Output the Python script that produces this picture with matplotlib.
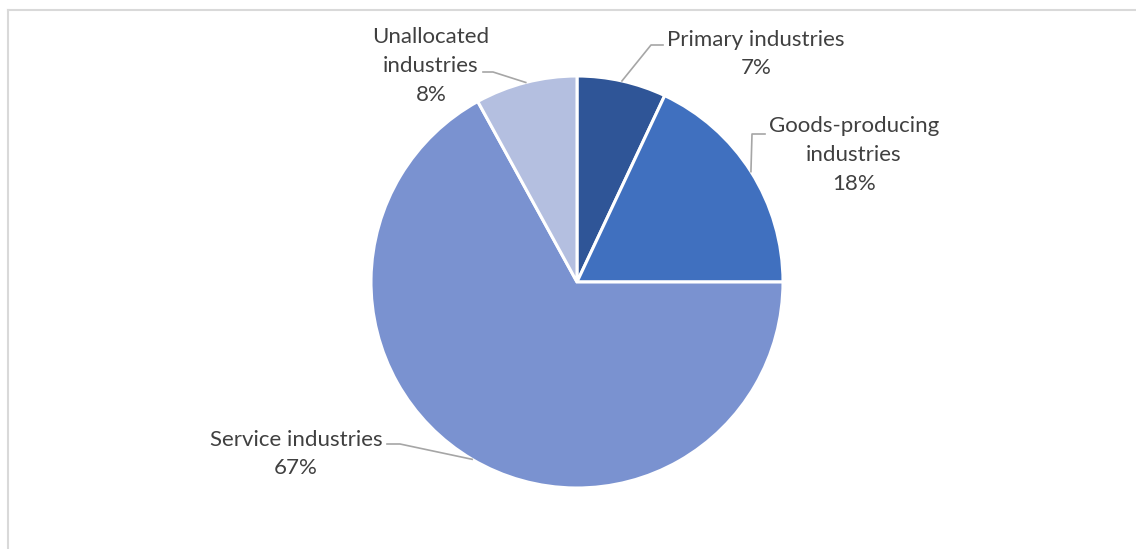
import numpy as np
import matplotlib
matplotlib.use("Agg")
import matplotlib.pyplot as plt

# Share of the total by industry group (percent)
categories = ["Primary industries", "Goods-producing\nindustries",
              "Service industries", "Unallocated\nindustries"]
shares = [7, 18, 67, 8]
colors = ["#2F5597", "#4070BF", "#7A92D0", "#B4BFE0"]

# label layout in pixel space: text centre, elbow point, end of short horizontal
label_pos = [(756, 54), (854, 155), (296, 454), (431, 66)]
elbows = [(651, 45), (752, 134), (400, 444), (493, 72)]
ends = [(663, 45), (765, 134), (387, 444), (483, 72)]

plt.rcParams['font.family'] = ['Lato', 'DejaVu Sans']

fig = plt.figure(figsize=(11.36, 5.49), dpi=100)
ax = fig.add_axes([0, 0, 1, 1])

center = (577, 282)
radius = 206

# y axis is flipped below, so data-counterclockwise draws clockwise on screen
wedges, _ = ax.pie(shares, colors=colors, startangle=-90, counterclock=True,
                   center=center, radius=radius, frame=True,
                   wedgeprops=dict(edgecolor='white', linewidth=2.2))
ax.set_xlim(0, 1136)
ax.set_ylim(549, 0)
ax.set_aspect('equal')
ax.axis('off')

for w, cat, val, tp, el, en in zip(wedges, categories, shares,
                                   label_pos, elbows, ends):
    mid = np.deg2rad((w.theta1 + w.theta2) / 2)
    edge = (center[0] + radius * np.cos(mid), center[1] + radius * np.sin(mid))
    ax.plot([edge[0], el[0], en[0]], [edge[1], el[1], en[1]],
            color='#A6A6A6', linewidth=1.2, zorder=3)
    ax.text(tp[0], tp[1], f"{cat}\n{val}%", ha='center', va='center',
            fontsize=16, color='#404040', linespacing=1.55)

# chart border (only top and left edges visible)
ax.plot([8, 1136], [10, 10], color='#D9D9D9', linewidth=1.5, clip_on=False)
ax.plot([8, 8], [10, 549], color='#D9D9D9', linewidth=1.5, clip_on=False)

fig.savefig("out.png", dpi=100)
